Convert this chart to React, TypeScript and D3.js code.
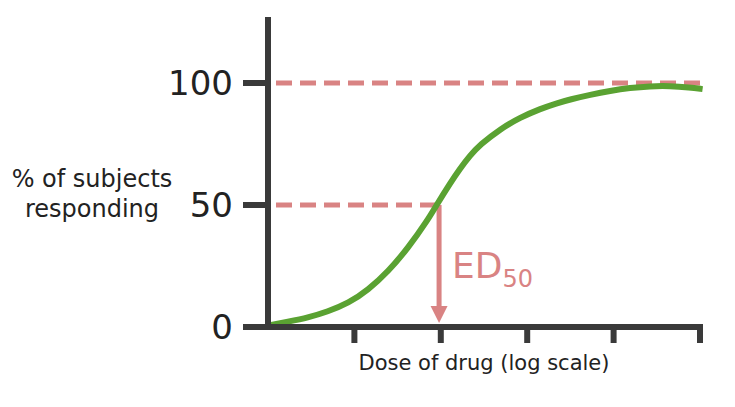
import React from "react";
import * as d3 from "d3";

const doses = [0, 0.23, 0.46, 0.69, 0.93, 1.16, 1.39, 1.62, 1.85, 1.96, 2.11, 2.22, 2.34, 2.45, 2.69, 2.92, 3.15, 3.34, 3.5, 3.73, 3.96, 4.19, 4.42, 4.65, 4.88, 5.03];
const responses = [0.6, 2.2, 3.8, 6.3, 9.7, 15.2, 22.7, 32.3, 43.9, 50.5, 59, 64.8, 70.3, 74.6, 81.2, 85.9, 89.4, 91.7, 93.3, 95.2, 96.8, 98.0, 98.7, 98.8, 98.2, 97.5];
const xTicks = [1, 2, 3, 4, 5];
const yTicks = [0, 50, 100];
const ed50 = 1.98;
const xLabel = "Dose of drug (log scale)";
const yLabelLines = ["% of subjects", "responding"];

const W = 735, H = 407;
const axisColor = "#3a3a3a";
const pink = "#d98383";
const green = "#5aa232";
const font = "'DejaVu Sans', Verdana, sans-serif";

export default function App() {
  const x = d3.scaleLinear().domain([0, 5]).range([268, 700]);
  const y = d3.scaleLinear().domain([0, 100]).range([327, 83]);
  const line = d3.line<number>()
    .x((_, i) => x(doses[i]))
    .y((d) => y(d))
    .curve(d3.curveBasis);
  const x0 = x(0);
  const yAxisTop = 17;
  const xe = x(ed50);
  return (
    <svg width={W} height={H} style={{ position: "absolute", left: 0, top: 0 }}>
      <rect width={W} height={H} fill="#fff" />
      <line x1={x0 + 8} x2={x(5) + 2} y1={y(100)} y2={y(100)} stroke={pink} strokeWidth={5} strokeDasharray="16 8" />
      <line x1={x0 + 8} x2={xe} y1={y(50)} y2={y(50)} stroke={pink} strokeWidth={5} strokeDasharray="16 8" />
      <line x1={xe} x2={xe} y1={y(50)} y2={y(0) - 18} stroke={pink} strokeWidth={5} />
      <path d={`M${xe - 8.5},${y(0) - 21} L${xe + 8.5},${y(0) - 21} L${xe},${y(0) - 4} Z`} fill={pink} />
      <path d={line(responses) || ""} fill="none" stroke={green} strokeWidth={6} strokeLinecap="butt" />
      <line x1={x0} x2={x0} y1={yAxisTop} y2={y(0) + 3} stroke={axisColor} strokeWidth={6} />
      <line x1={x0 - 3} x2={x(5) + 3} y1={y(0)} y2={y(0)} stroke={axisColor} strokeWidth={6} />
      {yTicks.map((t) => (
        <g key={t}>
          <line x1={x0 - 25} x2={x0} y1={y(t)} y2={y(t)} stroke={axisColor} strokeWidth={6} />
          <text x={233} y={y(t)} dy="0.36em" textAnchor="end" fontFamily={font} fontSize={34} fill="#222">{t}</text>
        </g>
      ))}
      {xTicks.map((t) => (
        <line key={t} x1={x(t)} x2={x(t)} y1={y(0)} y2={y(0) + 16} stroke={axisColor} strokeWidth={6} />
      ))}
      <text x={484} y={370} textAnchor="middle" fontFamily={font} fontSize={21} fill="#222">{xLabel}</text>
      {yLabelLines.map((l, i) => (
        <text key={i} x={92} y={187 + i * 30} textAnchor="middle" fontFamily={font} fontSize={24} fill="#222">{l}</text>
      ))}
      <text x={452} y={278} fontFamily={font} fontSize={36} fill={pink}>
        ED<tspan fontSize={24} dy={9}>50</tspan>
      </text>
    </svg>
  );
}
